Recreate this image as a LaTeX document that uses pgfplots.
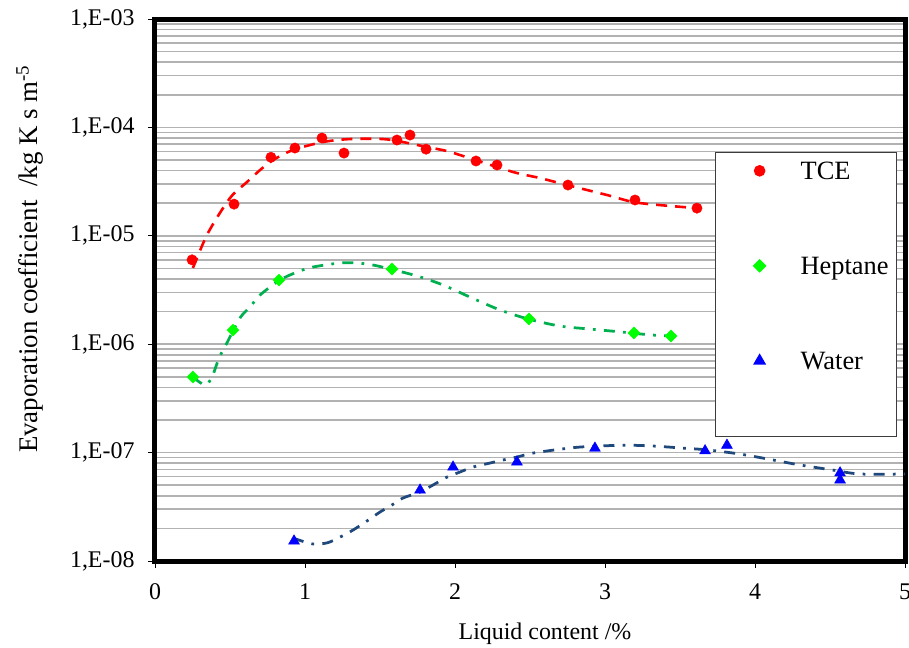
\documentclass[border=0pt]{standalone}
\usepackage{pgfplots}
\pgfplotsset{compat=1.18}
\usepackage{fontspec}
\setmainfont{Liberation Serif}

\definecolor{tcered}{RGB}{255,0,0}
\definecolor{heptmark}{RGB}{0,255,0}
\definecolor{heptline}{RGB}{0,176,80}
\definecolor{watermark}{RGB}{0,0,255}
\definecolor{waterline}{RGB}{31,73,125}
\definecolor{gridgray}{RGB}{178,178,178}
\definecolor{legframe}{RGB}{60,60,60}

\begin{document}
\begin{tikzpicture}
\begin{axis}[
    name=ax,
    scale only axis,
    width=750bp, height=542bp,
    ymode=log,
    xmin=0, xmax=5, ymin=1e-8, ymax=1e-3,
    xtick={0,1,2,3,4,5},
    xticklabels={0,1,2,3,4,5},
    ytick={1e-8,1e-7,1e-6,1e-5,1e-4,1e-3},
    yticklabels={{1,E-08},{1,E-07},{1,E-06},{1,E-05},{1,E-04},{1,E-03}},
    minor ytick={2e-8,3e-8,4e-8,5e-8,6e-8,7e-8,8e-8,9e-8,
                 2e-7,3e-7,4e-7,5e-7,6e-7,7e-7,8e-7,9e-7,
                 2e-6,3e-6,4e-6,5e-6,6e-6,7e-6,8e-6,9e-6,
                 2e-5,3e-5,4e-5,5e-5,6e-5,7e-5,8e-5,9e-5,
                 2e-4,3e-4,4e-4,5e-4,6e-4,7e-4,8e-4,9e-4},
    tick align=outside,
    xtick pos=left, ytick pos=left,
    major tick length=7bp, minor tick length=0pt,
    tick style={black, line width=0.8bp},
    ymajorgrids, yminorgrids,
    major grid style={draw=gridgray, line width=1.6bp},
    minor grid style={draw=gridgray, line width=1.6bp},
    axis line style={line width=5bp},
    ticklabel style={font=\fontsize{24}{28}\selectfont},
    yticklabel style={xshift=-10bp},
    xticklabel style={yshift=-12bp},
    xlabel={Liquid content /\%},
    ylabel={Evaporation coefficient~~/kg K s m\textsuperscript{-5}},
    xlabel style={font=\fontsize{24}{28}\selectfont, at={(axis description cs:0.52,-0.135)}, anchor=center},
    ylabel style={font=\fontsize{27}{31}\selectfont, at={(axis description cs:-0.167,0.557)}, anchor=center},
    legend style={at={(axis description cs:0.7467,0.7546)}, anchor=north west,
        draw=legframe, line width=1.2bp, fill=white,
        inner xsep=8bp, inner ysep=7bp, row sep=68bp, column sep=5bp,
        nodes={inner sep=0pt, text height=20bp, text depth=7bp},
        cells={anchor=base west},
        font=\fontsize{26.5}{30}\selectfont},
    legend image code/.code={%
        \path[draw=none, fill=none] (0bp,8.8bp) -- (72bp,8.8bp);
        \draw[#1] plot coordinates {(36bp,8.8bp)};},
]
% measured points
\addplot[only marks, mark=*, mark size=5.2bp, color=tcered] coordinates {
 (0.247,6.0e-6) (0.527,1.96e-5) (0.773,5.3e-5) (0.933,6.45e-5) (1.113,7.98e-5)
 (1.26,5.8e-5) (1.613,7.65e-5) (1.70,8.5e-5) (1.807,6.3e-5) (2.14,4.9e-5)
 (2.28,4.5e-5) (2.753,2.94e-5) (3.2,2.14e-5) (3.613,1.80e-5)};
\addlegendentry{TCE}
\addplot[only marks, mark=square*, mark size=4.25bp, mark options={rotate=45}, color=heptmark] coordinates {
 (0.253,4.98e-7) (0.52,1.35e-6) (0.827,3.9e-6) (1.58,4.94e-6)
 (2.493,1.71e-6) (3.193,1.27e-6) (3.44,1.19e-6)};
\addlegendentry{Heptane}
\addplot[only marks, mark=triangle*, mark size=6.3bp, color=watermark] coordinates {
 (0.927,1.53e-8) (1.767,4.52e-8) (1.987,7.36e-8) (2.413,8.2e-8) (2.933,1.10e-7)
 (3.667,1.04e-7) (3.813,1.17e-7) (4.567,6.5e-8) (4.567,5.6e-8)};
\addlegendentry[text depth=60bp]{Water}

% trend lines
\addplot[smooth, tcered, line width=2.6bp, dash pattern=on 11bp off 8bp] coordinates {
 (0.253,5.05e-6) (0.353,1.06e-5) (0.5,2.23e-5) (0.613,3.13e-5) (0.7,4.04e-5)
 (0.787,5.0e-5) (0.92,6.19e-5) (1.12,7.33e-5) (1.3,7.81e-5) (1.52,7.81e-5)
 (1.653,7.33e-5) (1.813,6.59e-5) (1.947,6.05e-5) (2.08,5.3e-5) (2.387,3.88e-5)
 (2.567,3.41e-5) (2.747,2.94e-5) (3.013,2.38e-5) (3.187,2.05e-5) (3.367,1.92e-5)
 (3.613,1.80e-5)};
\addplot[smooth, heptline, line width=2.75bp, dash pattern=on 11bp off 8.25bp on 2.75bp off 8.25bp] coordinates {
 (0.253,4.98e-7) (0.333,4.2e-7) (0.38,4.98e-7) (0.427,7.46e-7) (0.48,1.03e-6)
 (0.567,1.75e-6) (0.633,2.2e-6) (0.7,2.84e-6) (0.833,3.91e-6) (0.947,4.63e-6)
 (1.053,5.15e-6) (1.233,5.61e-6) (1.347,5.61e-6) (1.453,5.38e-6) (1.567,4.94e-6)
 (1.747,4.26e-6) (1.92,3.52e-6) (2.113,2.67e-6) (2.3,2.07e-6) (2.487,1.71e-6)
 (2.7,1.47e-6) (2.9,1.38e-6) (3.1,1.30e-6) (3.3,1.22e-6) (3.433,1.19e-6)};
\addplot[smooth, waterline, line width=2.75bp, dash pattern=on 11bp off 8.25bp on 2.75bp off 8.25bp] coordinates {
 (0.92,1.63e-8) (1.047,1.44e-8) (1.147,1.47e-8) (1.233,1.66e-8) (1.32,1.93e-8)
 (1.413,2.34e-8) (1.5,2.83e-8) (1.58,3.29e-8) (1.653,3.81e-8) (1.767,4.33e-8)
 (1.853,5.02e-8) (1.947,5.95e-8) (2.033,6.62e-8) (2.12,7.36e-8) (2.233,8.01e-8)
 (2.32,8.55e-8) (2.413,9.1e-8) (2.52,9.9e-8) (2.713,1.08e-7) (2.853,1.13e-7)
 (3.12,1.17e-7) (3.32,1.15e-7) (3.52,1.10e-7) (3.68,1.06e-7) (3.9,9.7e-8)
 (4.12,8.55e-8) (4.3,7.69e-8) (4.52,6.9e-8) (4.7,6.35e-8) (5.0,6.35e-8)};
\end{axis}
\pgfresetboundingbox
\path[use as bounding box] ([shift={(-155bp,-87bp)}]ax.south west) rectangle ([shift={(4bp,19bp)}]ax.north east);
\end{tikzpicture}
\end{document}
